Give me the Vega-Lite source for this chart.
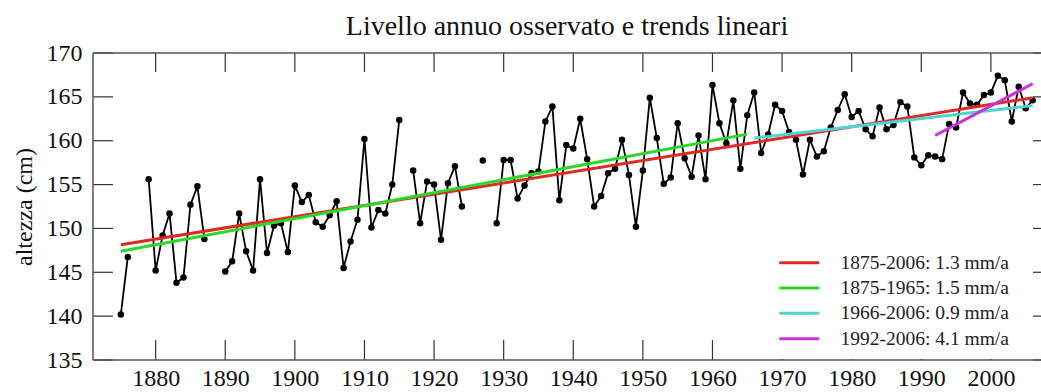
{
  "$schema": "https://vega.github.io/schema/vega-lite/v6.json",
  "width": 948,
  "height": 307,
  "autosize": "none",
  "padding": {"left": 93, "top": 53, "right": 0, "bottom": 32},
  "background": "white",
  "title": {"text": "Livello annuo osservato e trends lineari", "font": "Liberation Serif", "fontSize": 28, "fontWeight": "normal", "color": "#111", "anchor": "middle", "baseline": "alphabetic", "offset": -22},
  "config": {
    "view": {"stroke": null},
    "axis": {"grid": false}
  },
  "datasets": {
    "obs": [
      {"anno": 1875, "livello": 140.2}, {"anno": 1876, "livello": 146.75}, {"anno": 1877, "livello": null}, {"anno": 1878, "livello": null},
      {"anno": 1879, "livello": 155.6}, {"anno": 1880, "livello": 145.2}, {"anno": 1881, "livello": 149.2}, {"anno": 1882, "livello": 151.7},
      {"anno": 1883, "livello": 143.8}, {"anno": 1884, "livello": 144.4}, {"anno": 1885, "livello": 152.7}, {"anno": 1886, "livello": 154.8},
      {"anno": 1887, "livello": 148.8}, {"anno": 1888, "livello": null}, {"anno": 1889, "livello": null}, {"anno": 1890, "livello": 145.1},
      {"anno": 1891, "livello": 146.25}, {"anno": 1892, "livello": 151.7}, {"anno": 1893, "livello": 147.4}, {"anno": 1894, "livello": 145.2},
      {"anno": 1895, "livello": 155.6}, {"anno": 1896, "livello": 147.2}, {"anno": 1897, "livello": 150.3}, {"anno": 1898, "livello": 150.6},
      {"anno": 1899, "livello": 147.3}, {"anno": 1900, "livello": 154.9}, {"anno": 1901, "livello": 153.0}, {"anno": 1902, "livello": 153.8},
      {"anno": 1903, "livello": 150.7}, {"anno": 1904, "livello": 150.2}, {"anno": 1905, "livello": 151.5}, {"anno": 1906, "livello": 153.1},
      {"anno": 1907, "livello": 145.5}, {"anno": 1908, "livello": 148.5}, {"anno": 1909, "livello": 151.0}, {"anno": 1910, "livello": 160.2},
      {"anno": 1911, "livello": 150.1}, {"anno": 1912, "livello": 152.1}, {"anno": 1913, "livello": 151.7}, {"anno": 1914, "livello": 155.0},
      {"anno": 1915, "livello": 162.35}, {"anno": 1916, "livello": null}, {"anno": 1917, "livello": 156.6}, {"anno": 1918, "livello": 150.6},
      {"anno": 1919, "livello": 155.35}, {"anno": 1920, "livello": 155.0}, {"anno": 1921, "livello": 148.7}, {"anno": 1922, "livello": 155.15},
      {"anno": 1923, "livello": 157.1}, {"anno": 1924, "livello": 152.5}, {"anno": 1925, "livello": null}, {"anno": 1926, "livello": null},
      {"anno": 1927, "livello": 157.75}, {"anno": 1928, "livello": null}, {"anno": 1929, "livello": 150.6}, {"anno": 1930, "livello": 157.8},
      {"anno": 1931, "livello": 157.8}, {"anno": 1932, "livello": 153.4}, {"anno": 1933, "livello": 154.9}, {"anno": 1934, "livello": 156.3},
      {"anno": 1935, "livello": 156.5}, {"anno": 1936, "livello": 162.2}, {"anno": 1937, "livello": 163.9}, {"anno": 1938, "livello": 153.2},
      {"anno": 1939, "livello": 159.5}, {"anno": 1940, "livello": 159.1}, {"anno": 1941, "livello": 162.5}, {"anno": 1942, "livello": 157.9},
      {"anno": 1943, "livello": 152.5}, {"anno": 1944, "livello": 153.7}, {"anno": 1945, "livello": 156.3}, {"anno": 1946, "livello": 156.8},
      {"anno": 1947, "livello": 160.1}, {"anno": 1948, "livello": 156.1}, {"anno": 1949, "livello": 150.2}, {"anno": 1950, "livello": 156.6},
      {"anno": 1951, "livello": 164.9}, {"anno": 1952, "livello": 160.3}, {"anno": 1953, "livello": 155.1}, {"anno": 1954, "livello": 155.8},
      {"anno": 1955, "livello": 162.0}, {"anno": 1956, "livello": 158.0}, {"anno": 1957, "livello": 155.9}, {"anno": 1958, "livello": 160.6},
      {"anno": 1959, "livello": 155.6}, {"anno": 1960, "livello": 166.35}, {"anno": 1961, "livello": 162.0}, {"anno": 1962, "livello": 159.7},
      {"anno": 1963, "livello": 164.6}, {"anno": 1964, "livello": 156.8}, {"anno": 1965, "livello": 162.9}, {"anno": 1966, "livello": 165.5},
      {"anno": 1967, "livello": 158.6}, {"anno": 1968, "livello": 160.7}, {"anno": 1969, "livello": 164.1}, {"anno": 1970, "livello": 163.4},
      {"anno": 1971, "livello": 161.0}, {"anno": 1972, "livello": 160.1}, {"anno": 1973, "livello": 156.15}, {"anno": 1974, "livello": 160.1},
      {"anno": 1975, "livello": 158.2}, {"anno": 1976, "livello": 158.8}, {"anno": 1977, "livello": 161.5}, {"anno": 1978, "livello": 163.5},
      {"anno": 1979, "livello": 165.3}, {"anno": 1980, "livello": 162.7}, {"anno": 1981, "livello": 163.4}, {"anno": 1982, "livello": 161.3},
      {"anno": 1983, "livello": 160.5}, {"anno": 1984, "livello": 163.8}, {"anno": 1985, "livello": 161.3}, {"anno": 1986, "livello": 161.8},
      {"anno": 1987, "livello": 164.4}, {"anno": 1988, "livello": 163.9}, {"anno": 1989, "livello": 158.1}, {"anno": 1990, "livello": 157.2},
      {"anno": 1991, "livello": 158.35}, {"anno": 1992, "livello": 158.2}, {"anno": 1993, "livello": 157.9}, {"anno": 1994, "livello": 161.9},
      {"anno": 1995, "livello": 161.5}, {"anno": 1996, "livello": 165.5}, {"anno": 1997, "livello": 164.25}, {"anno": 1998, "livello": 164.1},
      {"anno": 1999, "livello": 165.2}, {"anno": 2000, "livello": 165.5}, {"anno": 2001, "livello": 167.4}, {"anno": 2002, "livello": 166.9},
      {"anno": 2003, "livello": 162.2}, {"anno": 2004, "livello": 166.15}, {"anno": 2005, "livello": 163.7}, {"anno": 2006, "livello": 164.6}
    ],
    "trend": [
      {"serie": "1875-2006: 1.3 mm/a", "anno": 1875, "livello": 148.15},
      {"serie": "1875-2006: 1.3 mm/a", "anno": 2006, "livello": 164.9},
      {"serie": "1875-1965: 1.5 mm/a", "anno": 1875, "livello": 147.4},
      {"serie": "1875-1965: 1.5 mm/a", "anno": 1965, "livello": 160.75},
      {"serie": "1966-2006: 0.9 mm/a", "anno": 1966, "livello": 160.3},
      {"serie": "1966-2006: 0.9 mm/a", "anno": 2006, "livello": 164.0},
      {"serie": "1992-2006: 4.1 mm/a", "anno": 1992, "livello": 160.6},
      {"serie": "1992-2006: 4.1 mm/a", "anno": 2006, "livello": 166.5}
    ],
    "decadi": [{"anno": 1880}, {"anno": 1890}, {"anno": 1900}, {"anno": 1910}, {"anno": 1920}, {"anno": 1930}, {"anno": 1940}, {"anno": 1950}, {"anno": 1960}, {"anno": 1970}, {"anno": 1980}, {"anno": 1990}, {"anno": 2000}],
    "livelli": [{"v": 135}, {"v": 140}, {"v": 145}, {"v": 150}, {"v": 155}, {"v": 160}, {"v": 165}, {"v": 170}]
  },
  "layer": [
    {
      "data": {"name": "obs"},
      "mark": {"type": "line", "color": "black", "strokeWidth": 1.8, "invalid": "break-paths-filter-domains"},
      "encoding": {
        "x": {"field": "anno", "type": "quantitative", "scale": {"domain": [1871, 2007.2], "nice": false, "zero": false},
              "axis": {"orient": "bottom", "values": [1880, 1890, 1900, 1910, 1920, 1930, 1940, 1950, 1960, 1970, 1980, 1990, 2000], "format": "d", "title": null, "ticks": false, "domain": false, "labelPadding": 6, "labelFont": "Liberation Serif", "labelFontSize": 24, "labelColor": "#111", "labelFlush": false, "grid": false}},
        "y": {"field": "livello", "type": "quantitative", "scale": {"domain": [135, 170], "nice": false, "zero": false},
              "axis": {"orient": "left", "values": [135, 140, 145, 150, 155, 160, 165, 170], "title": "altezza (cm)", "ticks": false, "domain": false, "labelPadding": 11, "labelFont": "Liberation Serif", "labelFontSize": 24, "labelColor": "#111", "titleFont": "Liberation Serif", "titleFontSize": 24, "titleFontWeight": "normal", "titleColor": "#111", "titlePadding": 10, "labelFlush": false, "grid": false}}
      }
    },
    {
      "data": {"name": "decadi"},
      "mark": {"type": "rule", "color": "#333", "strokeWidth": 1.2, "y2Offset": -20},
      "encoding": {
        "x": {"field": "anno", "type": "quantitative"},
        "y": {"datum": 135, "type": "quantitative"},
        "y2": {"datum": 135}
      }
    },
    {
      "data": {"name": "decadi"},
      "mark": {"type": "rule", "color": "#333", "strokeWidth": 1.2, "y2Offset": 19},
      "encoding": {
        "x": {"field": "anno", "type": "quantitative"},
        "y": {"datum": 170, "type": "quantitative"},
        "y2": {"datum": 170}
      }
    },
    {
      "data": {"name": "livelli"},
      "mark": {"type": "rule", "color": "#333", "strokeWidth": 1.2, "x2Offset": 20},
      "encoding": {
        "y": {"field": "v", "type": "quantitative"},
        "x": {"datum": 1871, "type": "quantitative"},
        "x2": {"datum": 1871}
      }
    },
    {
      "data": {"name": "livelli"},
      "mark": {"type": "rule", "color": "#333", "strokeWidth": 1.2, "x2Offset": -8},
      "encoding": {
        "y": {"field": "v", "type": "quantitative"},
        "x": {"datum": 2007.2, "type": "quantitative"},
        "x2": {"datum": 2007.2}
      }
    },
    {
      "data": {"values": [{"lato": "alto", "livello": 170}, {"lato": "basso", "livello": 135}]},
      "mark": {"type": "rule", "color": "#555", "strokeWidth": 1.5},
      "encoding": {
        "x": {"datum": 1871, "type": "quantitative"},
        "x2": {"datum": 2007.2},
        "y": {"field": "livello", "type": "quantitative"}
      }
    },
    {
      "data": {"values": [{"lato": "sinistra"}]},
      "mark": {"type": "rule", "color": "#555", "strokeWidth": 1.5},
      "encoding": {
        "x": {"datum": 1871, "type": "quantitative"},
        "y": {"datum": 135, "type": "quantitative"},
        "y2": {"datum": 170}
      }
    },
    {
      "data": {"name": "obs"},
      "mark": {"type": "point", "filled": true, "color": "black", "size": 42, "opacity": 1},
      "encoding": {
        "x": {"field": "anno", "type": "quantitative"},
        "y": {"field": "livello", "type": "quantitative"}
      }
    },
    {
      "data": {"name": "trend"},
      "mark": {"type": "line", "strokeWidth": 3},
      "encoding": {
        "x": {"field": "anno", "type": "quantitative"},
        "y": {"field": "livello", "type": "quantitative"},
        "color": {"field": "serie", "type": "nominal",
                  "scale": {"domain": ["1875-2006: 1.3 mm/a", "1875-1965: 1.5 mm/a", "1966-2006: 0.9 mm/a", "1992-2006: 4.1 mm/a"], "range": ["#dd2a25", "#2ad82a", "#4fd2d2", "#cc33d6"]},
                  "legend": {"orient": "none", "legendX": 670.5, "legendY": 190, "title": null, "fillColor": "white", "padding": 10, "symbolType": "M-1,0H9", "symbolSize": 64, "symbolStrokeWidth": 3, "labelFont": "Liberation Serif", "labelFontSize": 19.5, "labelColor": "#222", "labelOffset": 47.5, "rowPadding": 4.3, "labelLimit": 400}}
      }
    }
  ]
}
